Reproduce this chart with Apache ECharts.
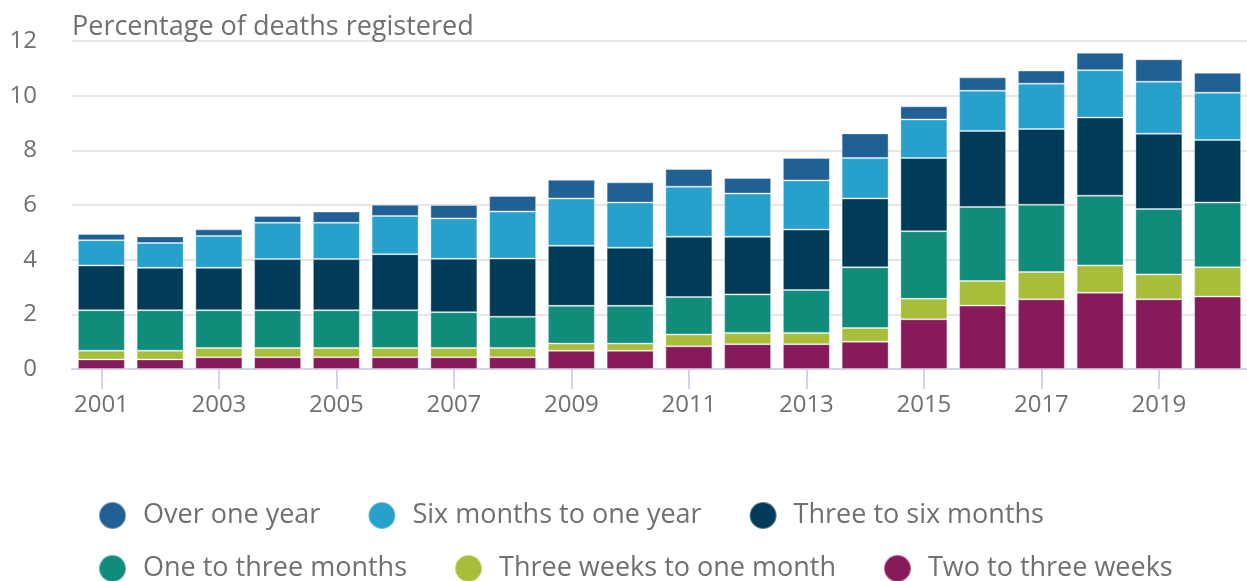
<!DOCTYPE html>
<html>
<head>
<meta charset="utf-8">
<script src="https://cdn.jsdelivr.net/npm/echarts@6/dist/echarts.min.js"></script>
<style>
  html, body { margin: 0; padding: 0; background: #fff; }
  #chart { width: 1247px; height: 581px; }
</style>
</head>
<body>
<div id="chart"></div>
<script>
  // 年份
  var years = ['2001', '2002', '2003', '2004', '2005', '2006', '2007', '2008', '2009', '2010',
               '2011', '2012', '2013', '2014', '2015', '2016', '2017', '2018', '2019', '2020'];

  // 各时长区间的百分比（从下往上堆叠）
  var twoToThreeWeeks = [0.35, 0.35, 0.43, 0.43, 0.43, 0.43, 0.43, 0.43, 0.67, 0.67,
                         0.83, 0.91, 0.91, 1.00, 1.82, 2.32, 2.55, 2.79, 2.55, 2.65];
  var threeWeeksToOneMonth = [0.32, 0.32, 0.34, 0.34, 0.34, 0.34, 0.34, 0.34, 0.26, 0.26,
                              0.43, 0.41, 0.41, 0.50, 0.75, 0.90, 1.00, 1.00, 0.91, 1.07];
  var oneToThreeMonths = [1.48, 1.48, 1.38, 1.38, 1.38, 1.38, 1.31, 1.14, 1.38, 1.38,
                          1.37, 1.41, 1.57, 2.22, 2.47, 2.71, 2.46, 2.55, 2.39, 2.37];
  var threeToSixMonths = [1.64, 1.55, 1.55, 1.87, 1.87, 2.05, 1.95, 2.13, 2.20, 2.13,
                          2.21, 2.11, 2.21, 2.52, 2.68, 2.78, 2.77, 2.86, 2.76, 2.29];
  var sixMonthsToOneYear = [0.92, 0.91, 1.17, 1.33, 1.33, 1.40, 1.48, 1.72, 1.73, 1.65,
                            1.83, 1.58, 1.80, 1.48, 1.41, 1.47, 1.66, 1.73, 1.90, 1.73];
  var overOneYear = [0.23, 0.24, 0.24, 0.25, 0.41, 0.41, 0.49, 0.57, 0.68, 0.74,
                     0.65, 0.57, 0.82, 0.90, 0.48, 0.49, 0.48, 0.64, 0.82, 0.73];

  var yTicks = [0, 2, 4, 6, 8, 10, 12];

  var font = '"Open Sans", "Noto Sans", sans-serif';
  var grey = '#707070';

  function bar(name, data, color) {
    return {
      name: name,
      type: 'bar',
      stack: 'total',
      barCategoryGap: '20%',
      data: data,
      itemStyle: { color: color, borderColor: 'rgba(255,255,255,0.35)', borderWidth: 1 },
      emphasis: { disabled: true }
    };
  }

  function legendRow(top, names) {
    return {
      left: 93,
      top: top,
      orient: 'horizontal',
      icon: 'circle',
      itemWidth: 27,
      itemHeight: 27,
      itemGap: 47,
      data: names,
      selectedMode: false,
      textStyle: { fontFamily: font, fontSize: 27, color: grey, padding: [0, 0, 0, 12] }
    };
  }

  var chart = echarts.init(document.getElementById('chart'));
  chart.setOption({
    animation: false,
    title: {
      text: 'Percentage of deaths registered',
      left: 67,
      top: 9,
      textStyle: { fontFamily: font, fontSize: 27, fontWeight: 'normal', color: grey }
    },
    legend: [
      legendRow(496, ['Over one year', 'Six months to one year', 'Three to six months']),
      legendRow(549, ['One to three months', 'Three weeks to one month', 'Two to three weeks'])
    ],
    grid: { left: 72, right: 0, top: 41, bottom: 212 },
    xAxis: {
      type: 'category',
      data: years,
      axisLine: { show: true, lineStyle: { color: '#ccd6eb', width: 2 } },
      axisTick: { show: true, alignWithLabel: true, interval: 1, length: 20, lineStyle: { color: '#ccd6eb', width: 2 } },
      axisLabel: { interval: 1, margin: 24, fontFamily: font, fontSize: 24, color: grey }
    },
    yAxis: {
      type: 'value',
      min: yTicks[0],
      max: yTicks[yTicks.length - 1],
      interval: 2,
      axisLine: { show: false },
      axisTick: { show: false },
      splitLine: { lineStyle: { color: '#e6e6e6', width: 2 } },
      axisLabel: { margin: 35, fontFamily: font, fontSize: 24, color: grey }
    },
    series: [
      bar('Two to three weeks', twoToThreeWeeks, '#871a5b'),
      bar('Three weeks to one month', threeWeeksToOneMonth, '#a8bd3a'),
      bar('One to three months', oneToThreeMonths, '#118c7b'),
      bar('Three to six months', threeToSixMonths, '#003c57'),
      bar('Six months to one year', sixMonthsToOneYear, '#27a0cc'),
      bar('Over one year', overOneYear, '#206095')
    ]
  });
</script>
</body>
</html>
